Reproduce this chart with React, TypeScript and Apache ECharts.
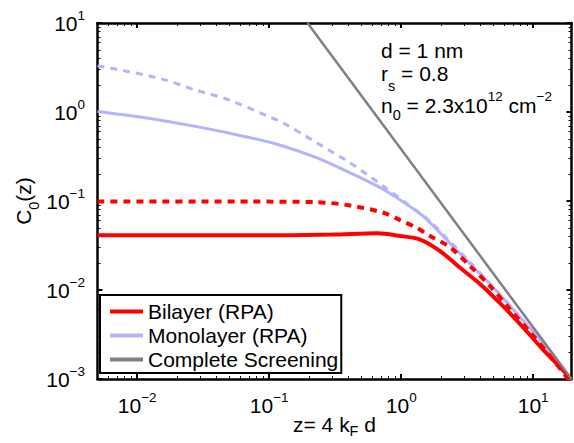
import React, { useEffect, useRef } from 'react';
import * as echarts from 'echarts';

const FONT = '"Liberation Sans", Arial, Helvetica, sans-serif';

// Axis ranges
const X_MIN = 0.005;
const X_MAX = 19.5;
const Y_MIN = 0.001;
const Y_MAX = 10;

// Tick values
const xMajorTicks = [0.01, 0.1, 1, 10];
const yMajorTicks = [0.001, 0.01, 0.1, 1, 10];
const xMinorTicks = [0.006, 0.007, 0.008, 0.009, 0.02, 0.03, 0.04, 0.05, 0.06, 0.07, 0.08, 0.09, 0.2, 0.3, 0.4, 0.5, 0.6, 0.7, 0.8, 0.9, 2, 3, 4, 5, 6, 7, 8, 9];
const yMinorTicks = [0.002, 0.003, 0.004, 0.005, 0.006, 0.007, 0.008, 0.009, 0.02, 0.03, 0.04, 0.05, 0.06, 0.07, 0.08, 0.09, 0.2, 0.3, 0.4, 0.5, 0.6, 0.7, 0.8, 0.9, 2, 3, 4, 5, 6, 7, 8, 9];

// Legend names
const legendNames = ['Bilayer (RPA)', 'Monolayer (RPA)', 'Complete Screening'];

// Bilayer (RPA) solid red
const bilayerZ = [0.005, 0.072, 0.3, 0.657, 0.981, 1.378, 1.97, 2.76, 3.97, 5.70, 8.19, 11.77, 16.9, 19.5];
const bilayerC = [0.0411, 0.0411, 0.0419, 0.0433, 0.0404, 0.0371, 0.0274, 0.0180, 0.01161, 0.00693, 0.00396, 0.00217, 0.00124, 0.00098];

// Bilayer dashed red
const bilayerDashZ = [0.005, 0.072, 0.230, 0.410, 0.733, 0.981, 1.312, 1.654, 2.344, 3.32, 4.70, 6.66, 9.44, 13.37, 17.89, 19.5];
const bilayerDashC = [0.0988, 0.0985, 0.0970, 0.0891, 0.0738, 0.061, 0.050, 0.0404, 0.0302, 0.0186, 0.01112, 0.0061, 0.00337, 0.00183, 0.00105, 0.00089];

// Monolayer (RPA) solid light blue
const monoZ = [0.005, 0.00864, 0.01545, 0.0276, 0.0493, 0.111, 0.230, 0.410, 0.733, 1.312, 1.562, 2.76, 3.97, 5.70, 8.19, 11.77, 18.4, 19.5];
const monoC = [1.015, 0.914, 0.803, 0.689, 0.581, 0.440, 0.305, 0.207, 0.1346, 0.0769, 0.0621, 0.026, 0.01503, 0.00859, 0.00471, 0.0026, 0.00106, 0.00095];

// Monolayer dashed light blue
const monoDashZ = [0.005, 0.00864, 0.01545, 0.0276, 0.0493, 0.099, 0.1285, 0.230, 0.410, 0.733, 1.167, 1.654, 2.344, 3.32, 4.70, 6.66, 9.44, 13.37, 19.5];
const monoDashC = [3.30, 2.84, 2.34, 1.77, 1.37, 0.89, 0.75, 0.449, 0.268, 0.1466, 0.0875, 0.059, 0.035, 0.0205, 0.0118, 0.0067, 0.0037, 0.0020, 0.00093];

// Complete screening gray
const completeZ = [0.195, 19.5];
const completeC = [10, 0.001];

const RED = '#ff0000';
const BLUE = '#b3b3ff';
const GRAY = '#808080';

const FS = 21;
const FS_SUP = 13.5;
const FS_SUB = 14.5;

const pairs = (z: number[], c: number[]) => z.map((v, i) => [v, c[i]]);

const fmtPow = (v: number) => {
  const e = Math.log10(v);
  const r = Math.round(e);
  if (Math.abs(e - r) > 1e-6) return '';
  const s = r < 0 ? '\u2212' + String(-r) : String(r);
  return `{b|10}{s|${s}}`;
};

const tickRich = {
  b: { fontSize: FS, fontFamily: FONT, color: '#000', lineHeight: 30, verticalAlign: 'middle' },
  s: { fontSize: FS_SUP, fontFamily: FONT, color: '#000', lineHeight: FS_SUP, verticalAlign: 'top' },
};

const nameRichX = {
  b: { fontSize: FS, fontFamily: FONT, color: '#000', lineHeight: FS, verticalAlign: 'top' },
  sub: { fontSize: FS_SUB, fontFamily: FONT, color: '#000', lineHeight: 24.5, verticalAlign: 'bottom' },
};
const nameRichY = {
  b: { fontSize: FS, fontFamily: FONT, color: '#000', lineHeight: FS, verticalAlign: 'top' },
  sub: { fontSize: FS_SUB, fontFamily: FONT, color: '#000', lineHeight: 29, verticalAlign: 'bottom' },
};

const annBase = { fontSize: FS, fontFamily: FONT, fill: '#000' };
const annRich1 = { b: { ...annBase, lineHeight: FS, verticalAlign: 'top' } };
const annRich2 = {
  b: { ...annBase, lineHeight: FS, verticalAlign: 'top' },
  sub: { fontSize: FS_SUB, fontFamily: FONT, fill: '#000', lineHeight: 30, verticalAlign: 'bottom' },
};
const annRich3 = {
  b: { ...annBase, lineHeight: FS, verticalAlign: 'middle' },
  sup: { fontSize: FS_SUP, fontFamily: FONT, fill: '#000', lineHeight: FS_SUP, verticalAlign: 'top' },
  sub: { fontSize: FS_SUB, fontFamily: FONT, fill: '#000', lineHeight: 33.6, verticalAlign: 'bottom' },
};

export default function App() {
  const ref = useRef<HTMLDivElement>(null);
  useEffect(() => {
    if (!ref.current) return;
    const chart = echarts.init(ref.current, null, { renderer: 'svg' });
    const frame = { color: '#000', width: 2.5 };
    const majorTick = (vals: number[]) => ({ show: true, inside: true, length: 5, lineStyle: { color: '#000', width: 2 }, customValues: vals });
    const minorTick = (vals: number[]) => ({ show: true, inside: true, length: 3, lineStyle: { color: '#000', width: 1 }, customValues: vals });
    const xBase = { type: 'log', logBase: 10, min: X_MIN, max: X_MAX, splitLine: { show: false }, gridIndex: 0 };
    const yBase = { type: 'log', logBase: 10, min: Y_MIN, max: Y_MAX, splitLine: { show: false }, gridIndex: 0 };

    const option: any = {
      animation: false,
      backgroundColor: '#fff',
      grid: { left: 97.5, right: 2.5, top: 23, bottom: 64, containLabel: false, outerBoundsMode: 'none' },
      xAxis: [
        {
          ...xBase,
          position: 'bottom',
          axisLine: { show: true, onZero: false, lineStyle: frame },
          axisTick: majorTick(xMajorTicks),
          axisLabel: { show: true, margin: 11, formatter: fmtPow, rich: tickRich, customValues: xMajorTicks },
          name: '{b|z= 4 k}{sub|F}{b| d}',
          nameLocation: 'middle',
          nameGap: 35,
          nameMoveOverlap: false,
          nameTextStyle: { rich: nameRichX },
        },
        {
          ...xBase,
          position: 'top',
          axisLine: { show: true, onZero: false, lineStyle: frame },
          axisTick: majorTick(xMajorTicks),
          axisLabel: { show: false },
        },
        {
          ...xBase,
          position: 'bottom',
          axisLine: { show: false },
          axisTick: minorTick(xMinorTicks),
          axisLabel: { show: false },
        },
        {
          ...xBase,
          position: 'top',
          axisLine: { show: false },
          axisTick: minorTick(xMinorTicks),
          axisLabel: { show: false },
        },
      ],
      yAxis: [
        {
          ...yBase,
          position: 'left',
          axisLine: { show: true, onZero: false, lineStyle: frame },
          axisTick: majorTick(yMajorTicks),
          axisLabel: { show: true, margin: 12.5, formatter: fmtPow, rich: tickRich, customValues: yMajorTicks },
          name: '{b|C}{sub|0}{b|(z)}',
          nameLocation: 'middle',
          nameGap: 56,
          nameRotate: 90,
          nameMoveOverlap: false,
          nameTextStyle: { rich: nameRichY },
        },
        {
          ...yBase,
          position: 'right',
          axisLine: { show: true, onZero: false, lineStyle: frame },
          axisTick: majorTick(yMajorTicks),
          axisLabel: { show: false },
        },
        {
          ...yBase,
          position: 'left',
          axisLine: { show: false },
          axisTick: minorTick(yMinorTicks),
          axisLabel: { show: false },
        },
        {
          ...yBase,
          position: 'right',
          axisLine: { show: false },
          axisTick: minorTick(yMinorTicks),
          axisLabel: { show: false },
        },
      ],
      legend: {
        show: true,
        orient: 'vertical',
        left: 100,
        top: 295,
        data: legendNames,
        icon: 'rect',
        itemWidth: 33,
        itemHeight: 4,
        itemGap: 3,
        padding: [6, 3, 3, 10],
        backgroundColor: '#fff',
        borderColor: '#000',
        borderWidth: 2,
        selectedMode: false,
        textStyle: { fontSize: FS, fontFamily: FONT, color: '#000' },
      },
      graphic: [
        {
          type: 'text', x: 381, y: 39.8, z: 10,
          style: { text: '{b|d = 1 nm}', rich: annRich1, align: 'left', verticalAlign: 'top' },
        },
        {
          type: 'text', x: 381, y: 63.3, z: 10,
          style: { text: '{b|r}{sub|s}{b| = 0.8}', rich: annRich2, align: 'left', verticalAlign: 'top' },
        },
        {
          type: 'text', x: 381, y: 89, z: 10,
          style: { text: '{b|n}{sub|0}{b| = 2.3x10}{sup|12}{b| cm}{sup|\u22122}', rich: annRich3, align: 'left', verticalAlign: 'top' },
        },
      ],
      series: [
        {
          name: 'Monolayer (unscreened)', type: 'line', xAxisIndex: 0, yAxisIndex: 0,
          data: pairs(monoDashZ, monoDashC), showSymbol: false, symbol: 'none', smooth: 0.3,
          lineStyle: { color: BLUE, width: 3, type: [7, 6] }, itemStyle: { color: BLUE },
        },
        {
          name: 'Monolayer (RPA)', type: 'line', xAxisIndex: 0, yAxisIndex: 0,
          data: pairs(monoZ, monoC), showSymbol: false, symbol: 'none', smooth: 0.3,
          lineStyle: { color: BLUE, width: 3 }, itemStyle: { color: BLUE },
        },
        {
          name: 'Bilayer (unscreened)', type: 'line', xAxisIndex: 0, yAxisIndex: 0,
          data: pairs(bilayerDashZ, bilayerDashC), showSymbol: false, symbol: 'none', smooth: 0.3,
          lineStyle: { color: RED, width: 4, type: [7, 6] }, itemStyle: { color: RED },
        },
        {
          name: 'Bilayer (RPA)', type: 'line', xAxisIndex: 0, yAxisIndex: 0,
          data: pairs(bilayerZ, bilayerC), showSymbol: false, symbol: 'none', smooth: 0.3,
          lineStyle: { color: RED, width: 4 }, itemStyle: { color: RED },
        },
        {
          name: 'Complete Screening', type: 'line', xAxisIndex: 0, yAxisIndex: 0,
          data: pairs(completeZ, completeC), showSymbol: false, symbol: 'none',
          lineStyle: { color: GRAY, width: 2.5 }, itemStyle: { color: GRAY },
        },
      ],
    };
    chart.setOption(option);
    return () => chart.dispose();
  }, []);
  return <div ref={ref} style={{ position: 'fixed', left: 0, top: 0, width: 574, height: 443 }} />;
}
